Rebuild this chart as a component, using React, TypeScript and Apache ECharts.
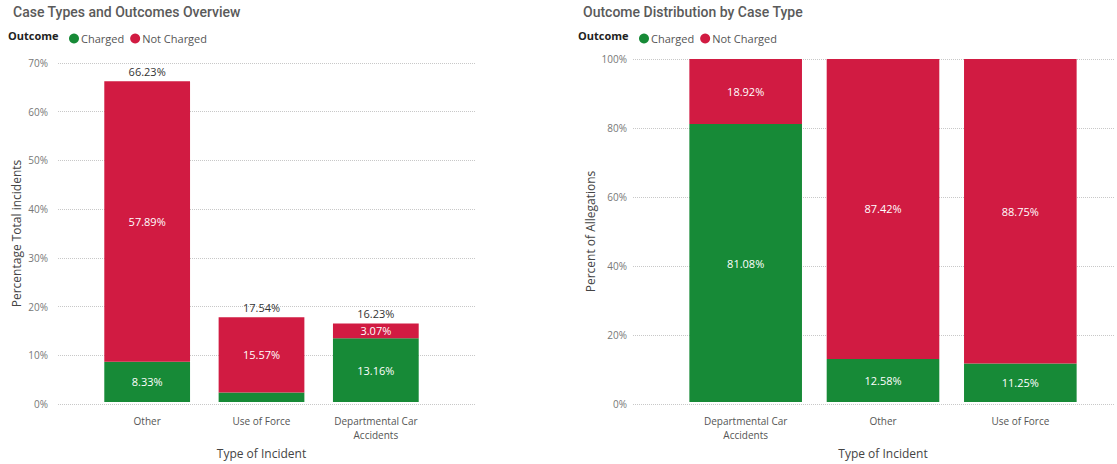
import React, { useEffect, useRef } from "react";
import * as echarts from "echarts";

const leftCategories = ["Other", "Use of Force", "Departmental Car\nAccidents"];
const leftCharged = [8.33, 1.97, 13.16];
const leftNotCharged = [57.89, 15.57, 3.07];
const leftTotals = [66.23, 17.54, 16.23];
const leftYTicks = [0, 10, 20, 30, 40, 50, 60, 70];

const rightCategories = ["Departmental Car\nAccidents", "Other", "Use of Force"];
const rightCharged = [81.08, 12.58, 11.25];
const rightNotCharged = [18.92, 87.42, 88.75];
const rightYTicks = [0, 20, 40, 60, 80, 100];

const GREEN = "#178A37";
const RED = "#D11B42";
const FONT = "'Open Sans', 'Noto Sans', sans-serif";

export default function App() {
  const ref = useRef<HTMLDivElement>(null);
  useEffect(() => {
    if (!ref.current) return;
    const chart = echarts.init(ref.current, null, { renderer: "svg" });
    const inside = {
      show: true,
      position: "inside",
      color: "#ffffff",
      fontSize: 11,
      fontFamily: FONT,
      formatter: (p: any) => (p.value == null ? "" : p.value.toFixed(2) + "%"),
    };
    const leftMax = leftYTicks[leftYTicks.length - 1];
    const rightMax = rightYTicks[rightYTicks.length - 1];
    const gridYAxis = (gridIndex: number, max: number, interval: number, name: string, nameGap: number, margin: number) => ({
      type: "value",
      gridIndex,
      min: 0,
      max,
      interval,
      name,
      nameLocation: "middle",
      nameGap,
      nameTextStyle: { color: "#444", fontSize: 12, fontFamily: FONT },
      axisLine: { show: false },
      axisTick: { show: false },
      axisLabel: { color: "#777", fontSize: 10, fontFamily: FONT, margin, formatter: (v: number) => v + "%" },
      splitLine: { show: true, lineStyle: { type: "dotted", color: "#c8c8c8", width: 1 } },
    });
    const hiddenY = (gridIndex: number, max: number, interval: number) => ({
      type: "value",
      gridIndex,
      min: 0,
      max,
      interval,
      show: false,
      splitLine: { show: false },
    });
    const hiddenX = (gridIndex: number, data: string[]) => ({
      type: "category",
      gridIndex,
      data,
      show: false,
    });
    const catX = (gridIndex: number, data: string[]) => ({
      type: "category",
      gridIndex,
      data,
      name: "Type of Incident",
      nameLocation: "middle",
      nameGap: 40,
      nameTextStyle: { color: "#444", fontSize: 12, fontFamily: FONT },
      axisLine: { show: false },
      axisTick: { show: false },
      axisLabel: { color: "#555", fontSize: 10, fontFamily: FONT, margin: 12, lineHeight: 14, interval: 0 },
    });
    const titleStyle = { color: "#5a5a5a", fontSize: 14, fontWeight: 500, fontFamily: "Roboto, sans-serif" };

    chart.setOption({
      animation: false,
      backgroundColor: "#ffffff",
      title: [
        { text: "Case Types and Outcomes Overview", left: 8, top: 0, textStyle: titleStyle },
        { text: "Outcome Distribution by Case Type", left: 578, top: 0, textStyle: titleStyle },
      ],
      graphic: [
        { type: "text", left: 8, top: 30, style: { text: "Outcome", fill: "#222", font: `bold 11px ${FONT}` } },
        { type: "text", left: 578, top: 30, style: { text: "Outcome", fill: "#222", font: `bold 11px ${FONT}` } },
      ],
      legend: [
        {
          data: ["Charged", "Not Charged"],
          left: 64, top: 28, icon: "circle", itemWidth: 10, itemHeight: 10, itemGap: 6,
          textStyle: { color: "#555", fontSize: 11, fontFamily: FONT, padding: [0, 0, 0, -3] },
          selectedMode: false,
        },
        {
          data: ["Charged ", "Not Charged "],
          left: 634, top: 28, icon: "circle", itemWidth: 10, itemHeight: 10, itemGap: 6,
          textStyle: { color: "#555", fontSize: 11, fontFamily: FONT, padding: [0, 0, 0, -3] },
          formatter: (n: string) => n.trim(),
          selectedMode: false,
        },
      ],
      grid: [
        { left: 58, top: 63, width: 417, bottom: 60 },
        { left: 90, top: 63, width: 343, bottom: 60 },
        { left: 633, top: 59, right: 2, bottom: 60 },
        { left: 677, top: 59, width: 412, bottom: 60 },
      ],
      xAxis: [
        hiddenX(0, leftCategories),
        catX(1, leftCategories),
        hiddenX(2, rightCategories),
        catX(3, rightCategories),
      ],
      yAxis: [
        gridYAxis(0, leftMax, 10, "Percentage Total incidents", 36, 10),
        hiddenY(1, leftMax, 10),
        gridYAxis(2, rightMax, 20, "Percent of Allegations", 37, 6),
        hiddenY(3, rightMax, 20),
      ],
      series: [
        {
          name: "Charged", type: "bar", stack: "l", xAxisIndex: 1, yAxisIndex: 1, barWidth: "75%",
          itemStyle: { color: GREEN },
          data: leftCharged.map((v) => ({ value: v, label: { show: v >= 5 } })),
          label: inside,
        },
        {
          name: "Not Charged", type: "bar", stack: "l", xAxisIndex: 1, yAxisIndex: 1, barWidth: "75%",
          itemStyle: { color: RED },
          data: leftNotCharged,
          label: inside,
        },
        {
          name: "Total", type: "bar", xAxisIndex: 1, yAxisIndex: 1, barWidth: "75%", barGap: "-100%",
          itemStyle: { color: "rgba(0,0,0,0)" }, silent: true,
          data: leftTotals,
          label: { show: true, position: "top", distance: 4, color: "#333", fontSize: 11, fontFamily: FONT, formatter: (p: any) => p.value.toFixed(2) + "%" },
          z: 1,
        },
        {
          name: "Charged ", type: "bar", stack: "r", xAxisIndex: 3, yAxisIndex: 3, barWidth: "82%",
          itemStyle: { color: GREEN },
          data: rightCharged,
          label: inside,
        },
        {
          name: "Not Charged ", type: "bar", stack: "r", xAxisIndex: 3, yAxisIndex: 3, barWidth: "82%",
          itemStyle: { color: RED },
          data: rightNotCharged,
          label: inside,
        },
      ],
    });
    return () => chart.dispose();
  }, []);
  return <div ref={ref} style={{ position: "fixed", left: 0, top: 0, width: 1117, height: 464 }} />;
}
